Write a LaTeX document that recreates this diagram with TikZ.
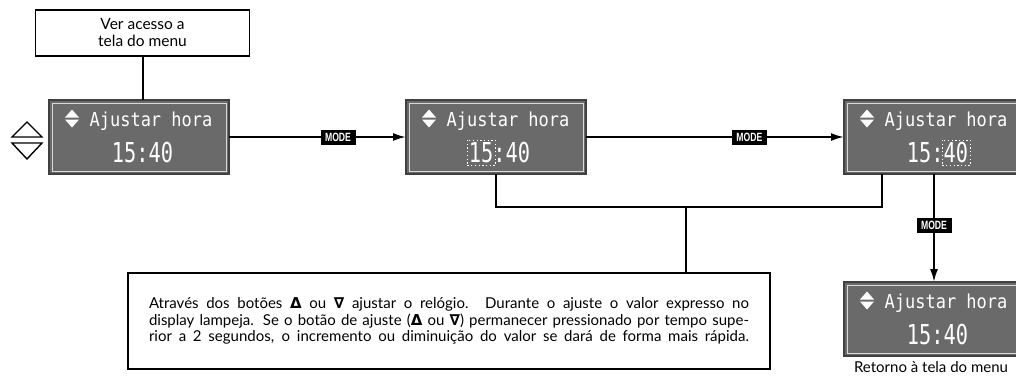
\documentclass[tikz,border=0pt]{standalone}
\usepackage{fontspec}
\setmainfont{Lato}
\newfontfamily\lcdfont{DejaVu Sans Mono}
\newfontfamily\symfont{DejaVu Sans}
\newfontfamily\tagfont{Liberation Sans}
\usetikzlibrary{arrows.meta}
\definecolor{lcdgray}{HTML}{6A6A6A}
\definecolor{lcdedge}{HTML}{404040}
\definecolor{lcdinner}{HTML}{DADADA}
\tikzset{
 lcd/.style={draw=lcdedge, line width=1.2pt, fill=lcdgray, minimum width=180pt, minimum height=74pt, inner sep=0pt, outer sep=0pt},
 lcdtext/.style={text=white, inner sep=0pt, anchor=base},
 conn/.style={line width=2pt},
 arr/.style={conn, -{Latex[length=13pt,width=8pt]}},
 modetag/.style={fill=black, text=white, font=\tagfont\bfseries\fontsize{12}{12}\selectfont, minimum width=35pt, minimum height=15pt, inner sep=0pt},
 plainbox/.style={draw, line width=1.8pt, inner sep=0pt, outer sep=0pt},
 blink/.style={white, line width=0.9pt, dash pattern=on 1.3pt off 2.4pt},
 bigtri/.style={line width=1.4pt, line join=miter},
}
\newcommand\lcdpanel[2]{%
 \node[lcd] (#1) at (#2) {};
 \draw[lcdinner, line width=0.8pt] ([shift={(3,3)}]#1.north west) rectangle ([shift={(-3,-3)}]#1.south east);
 \fill[white] ([shift={(-67,-27.5)}]#1.center) -- ([shift={(-74,-19.5)}]#1.center) -- ([shift={(-60,-19.5)}]#1.center) -- cycle;
 \fill[white] ([shift={(-74,-17.5)}]#1.center) -- ([shift={(-60,-17.5)}]#1.center) -- ([shift={(-67,-9.5)}]#1.center) -- cycle;
 \node[lcdtext] (#1-title) at ([shift={(12,-10.5)}]#1.center) {\scalebox{1}[1.13]{\lcdfont\fontsize{17}{17}\selectfont Ajustar hora}};
 \node[lcdtext] (#1-time) at ([shift={(3.5,25.5)}]#1.center) {\scalebox{1}[1.35]{\lcdfont\fontsize{20.3}{20}\selectfont 15:40}};
}
\newcommand\symD{{\symfont\bfseries Δ}}
\newcommand\symN{{\symfont\bfseries ∇}}
\begin{document}
\begin{tikzpicture}[x=1pt,y=-1pt]
\useasboundingbox (0,0) rectangle (1016,376);
\begin{scope}
\clip (0,0) rectangle (1016,376);
\node[plainbox, minimum width=214pt, minimum height=46pt, align=center, font=\fontsize{15.5}{17}\selectfont] (menu) at (142.5,33) {Ver acesso a\\tela do menu};
\lcdpanel{d1}{139,137}
\lcdpanel{d2}{496,137}
\lcdpanel{d3}{934,137}
\lcdpanel{d4}{934,319}
\draw[blink] ([shift={(-29,3)}]d2.center) rectangle ([shift={(-1,28.5)}]d2.center);
\draw[blink] ([shift={(8,3)}]d3.center) rectangle ([shift={(36,28.5)}]d3.center);
\draw[bigtri] (27,122) -- (12,137) -- (42,137) -- cycle;
\draw[bigtri] (12,143) -- (42,143) -- (27,159) -- cycle;
\node[plainbox, minimum width=642pt, minimum height=96pt, text width=600pt, align=justify, font=\fontsize{15}{16.7}\selectfont] (info) at (449,321) {\parfillskip=0pt Através dos botões \symD{} ou \symN{} ajustar o relógio. Durante o ajuste o valor expresso no\linebreak display lampeja. Se o botão de ajuste (\symD{} ou \symN) permanecer pressionado por tempo supe-\linebreak rior a 2 segundos, o incremento ou diminuição do valor se dará de forma mais rápida.\par};
\node[anchor=base, font=\fontsize{15}{15}\selectfont, inner sep=0pt] (ret) at (931,372) {Retorno à tela do menu};
\draw[conn] (menu.south) -- (menu.south |- d1.north);
\draw[arr] (d1.east) -- node[modetag, pos=0.616] (m1) {\scalebox{0.72}[1]{MODE}} (d2.west);
\draw[arr] (d2.east) -- node[modetag, pos=0.633] (m2) {\scalebox{0.72}[1]{MODE}} (d3.west);
\draw[arr] (d3.south) -- node[modetag, pos=0.477] (m3) {\scalebox{0.72}[1]{MODE}} (d4.north);
\coordinate (jr) at (882,207);
\coordinate (jb) at (686,207);
\draw[conn] (d2.south) |- (jr) -- (jr |- d3.south);
\draw[conn] (jb) -- (jb |- info.north);
\end{scope}
\end{tikzpicture}
\end{document}
